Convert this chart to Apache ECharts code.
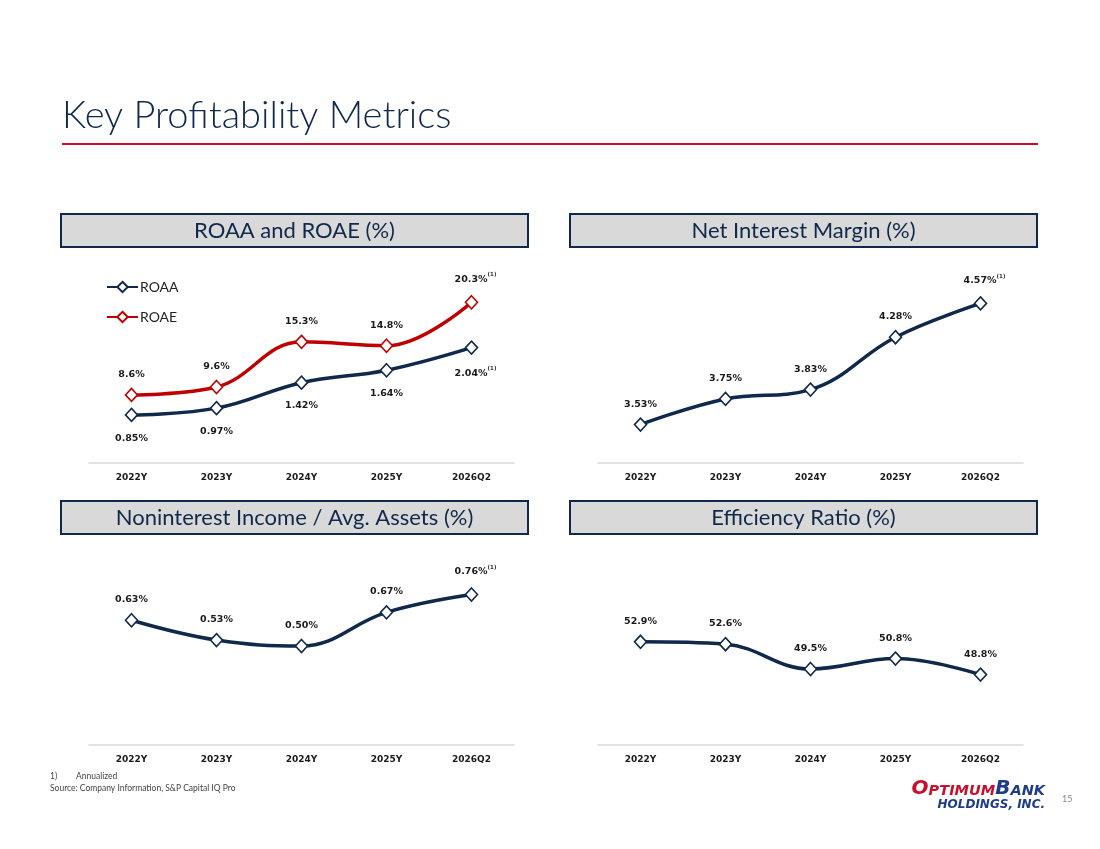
<!DOCTYPE html>
<html>
<head>
<meta charset="utf-8">
<title>Key Profitability Metrics</title>
<script src="https://cdn.jsdelivr.net/npm/echarts@6/dist/echarts.min.js"></script>
<style>
  html, body { margin: 0; padding: 0; background: #fff; }
  #main { width: 1100px; height: 849px; }
</style>
</head>
<body>
<div id="main"></div>
<script>
// categories and values
var categories = ['2022Y', '2023Y', '2024Y', '2025Y', '2026Q2'];
var roaa = [0.85, 0.97, 1.42, 1.64, 2.04];
var roae = [8.6, 9.6, 15.3, 14.8, 20.3];
var nim = [3.53, 3.75, 3.83, 4.28, 4.57];
var nonintIncome = [0.63, 0.53, 0.50, 0.67, 0.76];
var efficiency = [52.9, 52.6, 49.5, 50.8, 48.8];
// points carrying the "(1) Annualized" footnote mark
var annualizedIdx = 4;

var NAVY = '#10284a';
var RED = '#c00000';
var LABEL_FONT = 'DejaVu Sans';
var HEAD_FONT = 'Lato';

var myChart = echarts.init(document.getElementById('main'));

// build data items: last point gets the superscript (1)
function points(values, decimals, withMark){
	return values.map(function(v, i){
		var item = {value: v};
		if (withMark && i == annualizedIdx) {
			item.label = {
				formatter: '{v|' + v.toFixed(decimals) + '%}{s|(1)}',
				offset: [4, 0]
			};
		}
		return item;
	});
}

function lineSeries(name, values, decimals, withMark, color, xi, yi, pos, dist){
	return {
		name: name,
		type: 'line',
		xAxisIndex: xi,
		yAxisIndex: yi,
		data: points(values, decimals, withMark),
		smooth: 0.4,
		symbol: 'diamond',
		symbolSize: [12, 13],
		showAllSymbol: true,
		lineStyle: {color: color, width: 3.5},
		itemStyle: {color: '#fff', borderColor: color, borderWidth: 1.6},
		label: {
			show: true,
			position: pos,
			distance: dist,
			formatter: function(p){ return p.value.toFixed(decimals) + '%'; },
			fontFamily: LABEL_FONT,
			fontWeight: 'bold',
			fontSize: 9.5,
			color: '#1a1a1a',
			rich: {
				v: {fontFamily: LABEL_FONT, fontWeight: 'bold', fontSize: 9.5, color: '#1a1a1a'},
				s: {fontFamily: LABEL_FONT, fontSize: 5.5, color: '#333', padding: [0, 0, 9, 0]}
			}
		},
		emphasis: {disabled: true},
		z: 3
	};
}

function xAxisFor(gi){
	return {
		type: 'category',
		gridIndex: gi,
		data: categories,
		boundaryGap: true,
		axisLine: {show: true, lineStyle: {color: '#d9d9d9', width: 1.5}},
		axisTick: {show: false},
		axisLabel: {
			margin: 10,
			fontFamily: LABEL_FONT,
			fontWeight: 'bold',
			fontSize: 9,
			color: '#1a1a1a'
		},
		splitLine: {show: false}
	};
}

function yAxisFor(gi, min, max){
	return {type: 'value', gridIndex: gi, min: min, max: max, show: false, splitLine: {show: false}};
}

function header(x, y, text){
	return {
		type: 'group',
		children: [
			{
				type: 'rect',
				shape: {x: x, y: y, width: 467, height: 33},
				style: {fill: '#d9d9d9', stroke: NAVY, lineWidth: 2}
			},
			{
				type: 'text',
				x: x + 233.5,
				y: y + 17,
				style: {
					text: text,
					fontFamily: HEAD_FONT,
					fontSize: 22,
					fill: NAVY,
					align: 'center',
					verticalAlign: 'middle'
				}
			}
		]
	};
}

option = {
	backgroundColor: '#fff',
	animation: false,
	grid: [
		{left: 89, top: 265, width: 425, height: 198},
		{left: 598, top: 265, width: 425, height: 198},
		{left: 89, top: 547, width: 425, height: 198},
		{left: 598, top: 545, width: 425, height: 200}
	],
	xAxis: [xAxisFor(0), xAxisFor(1), xAxisFor(2), xAxisFor(3)],
	yAxis: [
		yAxisFor(0, 0, 3.5),
		yAxisFor(0, 0, 25),
		yAxisFor(1, 3.2, 4.9),
		yAxisFor(2, 0, 1),
		yAxisFor(3, 40, 65)
	],
	legend: {
		data: ['ROAA', 'ROAE'],
		orient: 'vertical',
		left: 106,
		top: 280,
		padding: 0,
		itemWidth: 31,
		itemHeight: 13,
		itemGap: 16,
		selectedMode: false,
		textStyle: {fontFamily: HEAD_FONT, fontSize: 14, color: '#222', padding: [0, 0, 0, -3]}
	},
	series: [
		lineSeries('ROAA', roaa, 2, true, NAVY, 0, 0, 'bottom', 11),
		lineSeries('ROAE', roae, 1, true, RED, 0, 1, 'top', 8),
		lineSeries('Net Interest Margin', nim, 2, true, NAVY, 1, 2, 'top', 8),
		lineSeries('Noninterest Income / Avg. Assets', nonintIncome, 2, true, NAVY, 2, 3, 'top', 8),
		lineSeries('Efficiency Ratio', efficiency, 1, false, NAVY, 3, 4, 'top', 8)
	],
	graphic: [
		{
			type: 'text',
			left: 62,
			top: 97,
			style: {
				text: 'Key Profitability Metrics',
				fontFamily: HEAD_FONT,
				fontWeight: 300,
				fontSize: 38,
				fill: NAVY
			}
		},
		{
			type: 'rect',
			shape: {x: 62, y: 143, width: 976, height: 2},
			style: {fill: '#c8102e'}
		},
		header(61, 214, 'ROAA and ROAE (%)'),
		header(570, 214, 'Net Interest Margin (%)'),
		header(61, 501, 'Noninterest Income / Avg. Assets (%)'),
		header(570, 501, 'Efficiency Ratio (%)'),
		{
			type: 'text', left: 50, top: 772,
			style: {text: '1)', fontFamily: HEAD_FONT, fontSize: 8.5, fill: '#444'}
		},
		{
			type: 'text', left: 76, top: 772,
			style: {text: 'Annualized', fontFamily: HEAD_FONT, fontSize: 8.5, fill: '#444'}
		},
		{
			type: 'text', left: 50, top: 784,
			style: {text: 'Source: Company Information, S&P Capital IQ Pro', fontFamily: HEAD_FONT, fontSize: 8.5, fill: '#444'}
		},
		{
			type: 'text',
			x: 1045, y: 789,
			style: {
				text: '{r1|O}{r2|PTIMUM}{b1|B}{b2|ANK}',
				align: 'right',
				verticalAlign: 'middle',
				rich: {
					r1: {fontFamily: 'DejaVu Sans', fontStyle: 'italic', fontWeight: 900, fontSize: 20, fill: '#c8102e', verticalAlign: 'bottom'},
					r2: {fontFamily: 'DejaVu Sans', fontStyle: 'italic', fontWeight: 900, fontSize: 14.5, fill: '#c8102e', verticalAlign: 'bottom'},
					b1: {fontFamily: 'DejaVu Sans', fontStyle: 'italic', fontWeight: 900, fontSize: 20, fill: '#1f3c8c', verticalAlign: 'bottom'},
					b2: {fontFamily: 'DejaVu Sans', fontStyle: 'italic', fontWeight: 900, fontSize: 14.5, fill: '#1f3c8c', verticalAlign: 'bottom'}
				}
			}
		},
		{
			type: 'text',
			x: 1045, y: 805,
			style: {
				text: 'HOLDINGS, INC.',
				align: 'right',
				verticalAlign: 'middle',
				fontFamily: 'DejaVu Sans',
				fontStyle: 'italic',
				fontWeight: 'bold',
				fontSize: 12,
				fill: '#1f3c8c'
			}
		},
		{
			type: 'text',
			x: 1062, y: 799,
			style: {text: '15', fontFamily: HEAD_FONT, fontSize: 9, fill: '#888', verticalAlign: 'middle'}
		}
	]
};
myChart.setOption(option);
</script>
</body>
</html>
